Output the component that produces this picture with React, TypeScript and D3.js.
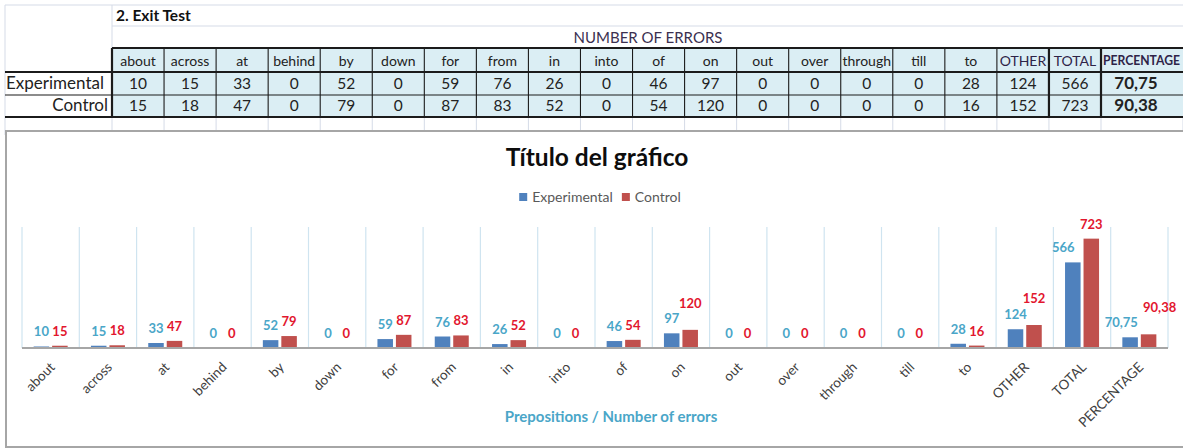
import * as d3 from 'd3';
import React from 'react';

const categories = ['about', 'across', 'at', 'behind', 'by', 'down', 'for', 'from', 'in', 'into', 'of', 'on', 'out', 'over', 'through', 'till', 'to', 'OTHER', 'TOTAL', 'PERCENTAGE'];
const seriesNames = ['Experimental', 'Control'];
const experimental = [10, 15, 33, 0, 52, 0, 59, 76, 26, 0, 46, 97, 0, 0, 0, 0, 28, 124, 566, 70.75];
const control = [15, 18, 47, 0, 79, 0, 87, 83, 52, 0, 54, 120, 0, 0, 0, 0, 16, 152, 723, 90.38];
const yMax = 800;

const W = 1183;
const H = 448;
const FONT = 'Lato, "Open Sans", sans-serif';
const BLUE = '#4f81bd';
const RED = '#c0504d';
const BLUE_LABEL = '#4aa6c8';
const RED_LABEL = '#e2162e';

const fmt = d3.formatLocale({ decimal: ',', thousands: '.', grouping: [3], currency: ['', ''] }).format('.2~f');

let ctx: CanvasRenderingContext2D | null = null;
const textWidth = (s: string, font: string) => {
  if (!ctx) ctx = document.createElement('canvas').getContext('2d');
  if (!ctx) return s.length * 7;
  ctx.font = font;
  return ctx.measureText(s).width;
};

const Table = () => {
  const last = categories.length - 1;
  const colX = d3.scaleLinear().domain([0, last]).range([112, 1101]);
  const edges = d3.range(categories.length).map((i) => colX(i));
  const colW = colX(1) - colX(0);
  const cx = (i: number) => (i === last ? 1136 : colX(i) + colW / 2);
  const rows = [experimental, control];
  const light = '#d5dbe7';
  const dark = '#1b1b1b';
  return (
    <g fontFamily={FONT}>
      {/* light sheet grid */}
      <line x1={5} x2={W} y1={5} y2={5} stroke={light} />
      <line x1={112} x2={W} y1={26} y2={26} stroke={light} />
      <line x1={5} x2={5} y1={5} y2={135} stroke={light} />
      <line x1={112} x2={112} y1={5} y2={48} stroke={light} />
      {edges.concat([W]).map((x, i) => (
        <line key={'lg' + i} x1={x} x2={x} y1={117} y2={135} stroke={light} />
      ))}
      <rect x={112} y={48} width={W - 112 + 10} height={69} fill="#dbeef4" />
      {edges.map((x, i) => (
        <line key={'dv' + i} x1={x} x2={x} y1={48} y2={117} stroke={dark} strokeWidth={i === 0 || i >= 18 ? 2.2 : 1.1} />
      ))}
      <line x1={112} x2={W} y1={48} y2={48} stroke={dark} strokeWidth={2.2} />
      <line x1={5} x2={W} y1={72} y2={72} stroke={dark} strokeWidth={1.8} />
      <line x1={5} x2={W} y1={95} y2={95} stroke={dark} strokeWidth={1.1} />
      <line x1={5} x2={W} y1={117} y2={117} stroke={dark} strokeWidth={2.2} />
      <text x={116} y={21} fontSize={15.5} fontWeight="bold" fill="#111">2. Exit Test</text>
      <text x={648} y={43} fontSize={15} textAnchor="middle" fill="#3b3050">NUMBER OF ERRORS</text>
      {categories.map((c, i) =>
        i === last ? (
          <text key={'h' + i} x={1103} y={65} fontSize={12.5} textAnchor="start" fill="#2e2448" fontWeight="bold" textLength={77} lengthAdjust="spacingAndGlyphs">
            {c}
          </text>
        ) : (
          <text key={'h' + i} x={cx(i)} y={66} fontSize={14} textAnchor="middle" fill={i >= 17 ? '#2e2448' : '#222'}>
            {c}
          </text>
        )
      )}
      <text x={6} y={89} fontSize={17} fill="#222">{seriesNames[0]}</text>
      <text x={108} y={111} fontSize={17} fill="#222" textAnchor="end">{seriesNames[1]}</text>
      {rows.map((vals, r) =>
        vals.map((v, i) => (
          <text key={'v' + r + '-' + i} x={cx(i)} y={89 + r * 22} fontSize={i === last ? 17 : 15.5} textAnchor="middle" fill="#222" fontWeight={i === last ? 'bold' : 'normal'}>
            {fmt(v)}
          </text>
        ))
      )}
    </g>
  );
};

const Chart = () => {
  const x0 = d3.scaleBand().domain(categories).range([22, 1168]).padding(0);
  const x1 = d3.scaleBand().domain(seriesNames).range([0, x0.bandwidth()]).paddingInner(0.16).paddingOuter(0.63);
  const y = d3.scaleLinear().domain([0, yMax]).range([348, 227]);
  const bw = x1.bandwidth();
  const labelFont = `bold 13px ${FONT}`;

  const labels = categories.map((c, i) => {
    const e = experimental[i];
    const k = control[i];
    const bx = (x0(c) ?? 0) + (x1('Experimental') ?? 0) + bw / 2;
    const rx = (x0(c) ?? 0) + (x1('Control') ?? 0) + bw / 2;
    const redLeft = rx - bw / 2;
    const wb = textWidth(fmt(e), labelFont);
    const wr = textWidth(fmt(k), labelFont);
    let lbx = bx;
    let lrx = rx;
    let lby = y(e) - 10;
    let lry = y(k) - 10;
    // keep the blue label off a taller red bar
    if (y(k) < lby - 10 && lbx + wb / 2 > redLeft - 2) lbx = redLeft - 9 - wb / 2;
    const gap = lrx - wr / 2 - (lbx + wb / 2);
    if (gap < 2 && Math.abs(lby - lry) < 12) {
      if (k >= e) lry = Math.min(lry, lby) - 12;
      else lby = Math.min(lry, lby) - 12;
      if (gap < -8) {
        lbx -= -gap * 0.6;
        lrx += -gap * 0.75;
      }
    }
    return { lbx, lby, lrx, lry, e, k };
  });

  const legendFont = `14px ${FONT}`;
  const w1 = textWidth(seriesNames[0], legendFont);
  const w2 = textWidth(seriesNames[1], legendFont);
  const legendW = 13 + w1 + 9 + 13 + w2;
  const lx = 600 - legendW / 2;

  return (
    <g fontFamily={FONT}>
      <rect x={6} y={131} width={W + 20} height={316} fill="#fff" stroke="#a6a6a6" strokeWidth={2} />
      <text x={597} y={166} textAnchor="middle" fontSize={24.5} fontWeight="bold" fill="#0d0d0d">Título del gráfico</text>
      <rect x={lx} y={193} width={8} height={8} fill={BLUE} />
      <text x={lx + 13} y={202} fontSize={14} fill="#595959">{seriesNames[0]}</text>
      <rect x={lx + 13 + w1 + 9} y={193} width={8} height={8} fill={RED} />
      <text x={lx + 13 + w1 + 9 + 13} y={202} fontSize={14} fill="#595959">{seriesNames[1]}</text>
      {categories.concat(['']).map((c, i) => {
        const gx = i < categories.length ? x0(c) ?? 0 : 1168;
        return <line key={'g' + i} x1={gx} x2={gx} y1={y(yMax)} y2={y(0)} stroke="#cfe4f0" strokeWidth={1.2} />;
      })}
      {categories.map((c, i) => (
        <g key={'b' + i} transform={`translate(${x0(c)},0)`}>
          <rect x={x1('Experimental')} y={y(experimental[i])} width={bw} height={y(0) - y(experimental[i])} fill={BLUE} />
          <rect x={x1('Control')} y={y(control[i])} width={bw} height={y(0) - y(control[i])} fill={RED} />
        </g>
      ))}
      <line x1={22} x2={1168} y1={y(0)} y2={y(0)} stroke="#a6a6a6" strokeWidth={2} />
      {labels.map((l, i) => (
        <g key={'l' + i} fontSize={13} fontWeight="bold" textAnchor="middle">
          <text x={l.lbx} y={l.lby} fill={BLUE_LABEL}>{fmt(l.e)}</text>
          <text x={l.lrx} y={l.lry} fill={RED_LABEL}>{fmt(l.k)}</text>
        </g>
      ))}
      {categories.map((c, i) => (
        <text key={'x' + i} transform={`translate(${(x0(c) ?? 0) + x0.bandwidth() / 2 + 5},368) rotate(-45)`} textAnchor="end" fontSize={13.5} fill="#404040">
          {c}
        </text>
      ))}
      <text x={611} y={422} textAnchor="middle" fontSize={15} fontWeight="bold" fill={BLUE_LABEL}>Prepositions / Number of errors</text>
    </g>
  );
};

export default function App() {
  return (
    <svg width={W} height={H} style={{ position: 'absolute', left: 0, top: 0, background: '#fff' }}>
      <Table />
      <Chart />
    </svg>
  );
}
